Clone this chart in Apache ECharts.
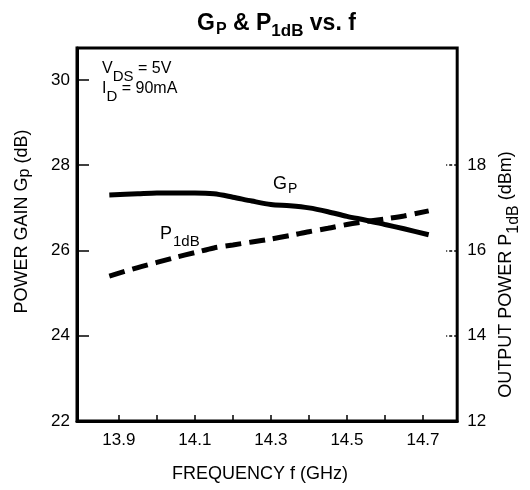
<!DOCTYPE html>
<html>
<head>
<meta charset="utf-8">
<script src="https://cdn.jsdelivr.net/npm/echarts@6/dist/echarts.min.js"></script>
<style>
  html, body { margin: 0; padding: 0; background: #fff; }
  #chart { width: 530px; height: 490px; }
</style>
</head>
<body>
<div id="chart"></div>
<script>
// frequency points (GHz)
var freq = [13.875, 13.95, 14.0, 14.05, 14.1, 14.15, 14.2, 14.25, 14.3, 14.35, 14.4, 14.45, 14.5, 14.55, 14.6, 14.65, 14.715];
// power gain Gp (dB), left axis
var gainGp = [27.30, 27.33, 27.35, 27.35, 27.35, 27.33, 27.25, 27.16, 27.08, 27.05, 27.00, 26.91, 26.80, 26.71, 26.61, 26.51, 26.37];
// output power P1dB (dBm), right axis
var powerP1dB = [15.40, 15.60, 15.72, 15.84, 15.95, 16.06, 16.13, 16.20, 16.27, 16.35, 16.44, 16.52, 16.61, 16.68, 16.74, 16.81, 16.93];

var freqTicks = [13.9, 14.0, 14.1, 14.2, 14.3, 14.4, 14.5, 14.6, 14.7];
var freqLabels = [13.9, 14.1, 14.3, 14.5, 14.7];
var gainTicks = [22, 24, 26, 28, 30];
var powerTicks = [12, 14, 16, 18];

var FONT = 'Liberation Sans, Arial, Helvetica, sans-serif';

function pairs(xs, ys) {
    var out = [];
    for (var i = 0; i < xs.length; i++) out.push([xs[i], ys[i]]);
    return out;
}

var chart = echarts.init(document.getElementById('chart'));

var option = {
    backgroundColor: '#fff',
    animation: false,
    textStyle: { fontFamily: FONT, color: '#000' },
    title: {
        text: '{b|G}{p|P}{b| & P}{s|1dB}{b| vs. f}',
        left: 192,
        top: 7,
        textStyle: {
            rich: {
                b: { fontFamily: FONT, fontSize: 23, fontWeight: 'bold', color: '#000', lineHeight: 26, verticalAlign: 'top' },
                p: { fontFamily: FONT, fontSize: 16, fontWeight: 'bold', color: '#000', lineHeight: 19, verticalAlign: 'top', padding: [10, 0, 0, 1] },
                s: { fontFamily: FONT, fontSize: 17, fontWeight: 'bold', color: '#000', lineHeight: 19, verticalAlign: 'top', padding: [11, 0, 0, 0] }
            }
        }
    },
    grid: {
        left: 77,
        right: 69,
        top: 48,
        bottom: 69,
        show: true,
        borderColor: '#000',
        borderWidth: 3
    },
    xAxis: {
        type: 'value',
        min: 13.79,
        max: 14.79,
        name: 'FREQUENCY f (GHz)',
        nameLocation: 'middle',
        nameGap: 44,
        nameTextStyle: { fontSize: 18, color: '#000', padding: [0, 14, 0, 0] },
        axisLine: { lineStyle: { color: '#000', width: 3 } },
        axisTick: {
            inside: true,
            length: 6,
            customValues: freqTicks,
            lineStyle: { color: '#000', width: 1.5 }
        },
        axisLabel: {
            customValues: freqLabels,
            margin: 11,
            fontSize: 17,
            color: '#000',
            formatter: function (v) { return v.toFixed(1); }
        },
        splitLine: { show: false }
    },
    yAxis: [{
        type: 'value',
        min: 22,
        max: 30.75,
        position: 'left',
        name: '{n|POWER GAIN G}{s|p}{n| (dB)}',
        nameLocation: 'middle',
        nameRotate: 90,
        nameGap: 44,
        nameTextStyle: {
            padding: [0, 0, 0, 26],
            rich: {
                n: { fontSize: 18, color: '#000', lineHeight: 20, verticalAlign: 'top' },
                s: { fontSize: 16, color: '#000', lineHeight: 18, verticalAlign: 'top', padding: [4, 0, 0, 0] }
            }
        },
        axisLine: { show: true, lineStyle: { color: '#000', width: 3 } },
        axisTick: {
            inside: true,
            length: 12,
            customValues: gainTicks,
            lineStyle: { color: '#000', width: 1.5 }
        },
        axisLabel: {
            customValues: gainTicks,
            margin: 7,
            fontSize: 17,
            color: '#000'
        },
        splitLine: { show: false }
    }, {
        type: 'value',
        min: 12,
        max: 20.75,
        position: 'right',
        name: '{n|OUTPUT POWER P}{s|1dB}{n| (dBm)}',
        nameLocation: 'middle',
        nameRotate: 90,
        nameGap: 37,
        nameTextStyle: {
            padding: [0, 80, 0, 0],
            rich: {
                n: { fontSize: 18, color: '#000', lineHeight: 20, verticalAlign: 'top' },
                s: { fontSize: 16, color: '#000', lineHeight: 18, verticalAlign: 'top', padding: [9, 0, 0, 0] }
            }
        },
        axisLine: { show: true, lineStyle: { color: '#000', width: 2 } },
        axisTick: {
            inside: true,
            length: 11,
            customValues: powerTicks,
            lineStyle: { color: '#000', width: 1.5, type: [3, 2] }
        },
        axisLabel: {
            customValues: powerTicks,
            margin: 10,
            fontSize: 17,
            color: '#000'
        },
        splitLine: { show: false }
    }],
    graphic: [{
        type: 'text',
        left: 102,
        top: 61,
        style: {
            text: '{n|V}{s|DS}{n| = 5V}\n{n|I}{s|D}{n| = 90mA}',
            rich: {
                n: { fontFamily: FONT, fontSize: 16, fill: '#000', lineHeight: 20, verticalAlign: 'top' },
                s: { fontFamily: FONT, fontSize: 15, fill: '#000', lineHeight: 16, verticalAlign: 'top', padding: [8, 0, 0, 0] }
            }
        }
    }, {
        type: 'text',
        left: 273,
        top: 175,
        style: {
            text: '{n|G}{s|P}',
            rich: {
                n: { fontFamily: FONT, fontSize: 18, fill: '#000', lineHeight: 20, verticalAlign: 'top' },
                s: { fontFamily: FONT, fontSize: 14, fill: '#000', lineHeight: 16, verticalAlign: 'top', padding: [7, 0, 0, 1] }
            }
        }
    }, {
        type: 'text',
        left: 160,
        top: 225,
        style: {
            text: '{n|P}{s|1dB}',
            rich: {
                n: { fontFamily: FONT, fontSize: 18, fill: '#000', lineHeight: 20, verticalAlign: 'top' },
                s: { fontFamily: FONT, fontSize: 15, fill: '#000', lineHeight: 16, verticalAlign: 'top', padding: [9, 0, 0, 1] }
            }
        }
    }],
    series: [{
        name: 'Gp',
        type: 'line',
        yAxisIndex: 0,
        smooth: 0.3,
        showSymbol: false,
        lineStyle: { color: '#000', width: 5 },
        data: pairs(freq, gainGp)
    }, {
        name: 'P1dB',
        type: 'line',
        yAxisIndex: 1,
        smooth: 0.3,
        showSymbol: false,
        lineStyle: { color: '#000', width: 5, type: [16, 8], cap: 'butt' },
        data: pairs(freq, powerP1dB)
    }]
};

chart.setOption(option);
</script>
</body>
</html>
